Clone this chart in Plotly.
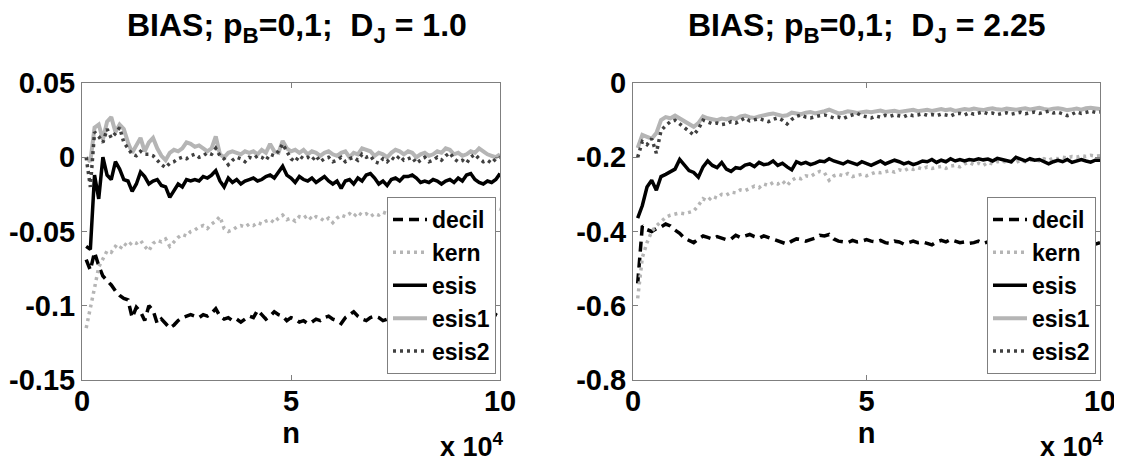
import plotly.graph_objects as go

# ---------------- data ----------------
n = list(range(1000, 100001, 1000))
series_names = ["decil", "kern", "esis", "esis1", "esis2"]

# Left panel: D_J = 1.0
left_decil = [
    -0.069, -0.076, -0.064, -0.073, -0.080, -0.083, -0.086, -0.090, -0.093, -0.095,
    -0.096, -0.108, -0.101, -0.104, -0.110, -0.100, -0.103, -0.112, -0.109, -0.112,
    -0.115, -0.113, -0.110, -0.108, -0.107, -0.106, -0.107, -0.108, -0.106, -0.107,
    -0.105, -0.102, -0.107, -0.109, -0.108, -0.110, -0.109, -0.111, -0.109, -0.107,
    -0.108, -0.103, -0.106, -0.109, -0.107, -0.104, -0.106, -0.107, -0.110, -0.108,
    -0.109, -0.111, -0.110, -0.112, -0.111, -0.109, -0.110, -0.108, -0.107, -0.109,
    -0.110, -0.112, -0.108, -0.106, -0.104, -0.107, -0.109, -0.110, -0.108, -0.107,
    -0.108, -0.110, -0.109, -0.107, -0.108, -0.110, -0.111, -0.109, -0.108, -0.110,
    -0.109, -0.108, -0.110, -0.111, -0.109, -0.108, -0.110, -0.109, -0.107, -0.108,
    -0.109, -0.108, -0.110, -0.109, -0.107, -0.108, -0.111, -0.109, -0.106, -0.108,
]
left_kern = [
    -0.115, -0.100, -0.088, -0.074, -0.068, -0.063, -0.064, -0.060, -0.062, -0.058,
    -0.060, -0.057, -0.058, -0.056, -0.060, -0.063, -0.058, -0.056, -0.057, -0.055,
    -0.060, -0.057, -0.054, -0.052, -0.053, -0.050, -0.049, -0.047, -0.046, -0.048,
    -0.045, -0.043, -0.040, -0.048, -0.050, -0.049, -0.047, -0.046, -0.047, -0.045,
    -0.046, -0.044, -0.045, -0.043, -0.042, -0.044, -0.041, -0.039, -0.042, -0.041,
    -0.043, -0.040, -0.041, -0.039, -0.042, -0.040, -0.041, -0.043, -0.041, -0.044,
    -0.041, -0.039, -0.040, -0.038, -0.040, -0.037, -0.039, -0.038, -0.040, -0.038,
    -0.039, -0.037, -0.038, -0.036, -0.038, -0.036, -0.037, -0.035, -0.037, -0.036,
    -0.038, -0.037, -0.036, -0.035, -0.037, -0.036, -0.034, -0.036, -0.035, -0.034,
    -0.036, -0.035, -0.033, -0.035, -0.034, -0.036, -0.035, -0.033, -0.034, -0.035,
]
left_esis = [
    -0.060, -0.062, -0.012, -0.028, 0.000, -0.012, -0.015, -0.003, -0.008, -0.015,
    -0.016, -0.023, -0.018, -0.010, -0.013, -0.018, -0.016, -0.015, -0.019, -0.020,
    -0.027, -0.022, -0.018, -0.020, -0.015, -0.016, -0.015, -0.016, -0.013, -0.014,
    -0.012, -0.009, -0.016, -0.020, -0.014, -0.017, -0.015, -0.018, -0.016, -0.015,
    -0.014, -0.016, -0.015, -0.013, -0.012, -0.014, -0.010, -0.006, -0.012, -0.014,
    -0.017, -0.013, -0.015, -0.016, -0.014, -0.017, -0.015, -0.013, -0.016, -0.018,
    -0.016, -0.021, -0.016, -0.015, -0.018, -0.014, -0.016, -0.012, -0.011, -0.014,
    -0.018, -0.016, -0.019, -0.015, -0.014, -0.016, -0.013, -0.013, -0.012, -0.014,
    -0.017, -0.016, -0.017, -0.015, -0.016, -0.018, -0.016, -0.015, -0.017, -0.014,
    -0.016, -0.012, -0.011, -0.015, -0.017, -0.018, -0.016, -0.017, -0.015, -0.011,
]
left_esis1 = [
    0.000, -0.003, 0.020, 0.022, 0.012, 0.024, 0.027, 0.017, 0.022, 0.019,
    0.010, 0.003, 0.008, 0.013, 0.004, 0.010, 0.013, 0.006, 0.001, -0.002,
    0.003, 0.005, 0.004, 0.006, 0.010, 0.009, 0.007, 0.008, 0.006, 0.004,
    0.006, 0.014, 0.002, 0.000, 0.003, 0.004, 0.003, 0.002, 0.004, 0.003,
    0.004, 0.002, 0.005, 0.003, 0.009, 0.004, 0.003, 0.011, 0.006, 0.004,
    0.005, 0.003, 0.005, 0.002, 0.004, 0.003, 0.001, 0.003, 0.004, 0.002,
    0.001, 0.003, 0.004, 0.000, 0.003, 0.002, 0.006, 0.005, 0.004, 0.001,
    0.003, 0.002, 0.000, 0.003, 0.005, 0.004, 0.002, 0.004, 0.003, 0.000,
    0.002, 0.003, 0.001, 0.002, 0.004, 0.003, 0.006, 0.005, 0.002, 0.003,
    0.001, 0.002, 0.004, 0.003, 0.006, 0.004, 0.002, 0.001, 0.000, 0.002,
]
left_esis2 = [
    0.000, -0.020, 0.017, 0.014, 0.010, 0.019, 0.013, 0.016, 0.020, 0.010,
    0.006, 0.002, 0.001, 0.004, 0.002, 0.002, 0.001, -0.002, -0.005, -0.007,
    -0.004, -0.003, -0.001, 0.000, -0.001, 0.001, 0.002, 0.000, 0.001, 0.003,
    0.002, 0.006, 0.001, -0.001, -0.005, -0.002, 0.000, -0.001, -0.003, 0.000,
    -0.001, 0.001, 0.000, -0.002, 0.002, 0.001, 0.004, 0.009, 0.004, -0.001,
    -0.003, 0.001, -0.001, 0.000, -0.002, 0.001, -0.003, -0.001, 0.000, -0.003,
    -0.002, 0.000, -0.003, -0.001, 0.000, -0.002, 0.002, 0.000, 0.001, -0.003,
    -0.004, -0.001, -0.003, 0.000, -0.002, 0.001, -0.002, -0.001, 0.000, -0.004,
    -0.002, 0.000, -0.003, -0.002, 0.000, -0.002, 0.001, 0.003, -0.001, -0.003,
    -0.002, -0.004, 0.000, 0.002, -0.001, -0.003, -0.002, -0.004, -0.001, 0.000,
]

# Right panel: D_J = 2.25
right_decil = [
    -0.540, -0.385, -0.395, -0.400, -0.392, -0.388, -0.380, -0.385, -0.396, -0.405,
    -0.418, -0.425, -0.430, -0.420, -0.412, -0.416, -0.420, -0.414, -0.418, -0.422,
    -0.420, -0.410, -0.416, -0.412, -0.408, -0.414, -0.418, -0.412, -0.416, -0.420,
    -0.424, -0.428, -0.434, -0.426, -0.420, -0.422, -0.426, -0.422, -0.418, -0.410,
    -0.412, -0.408, -0.420, -0.426, -0.428, -0.430, -0.424, -0.428, -0.426, -0.422,
    -0.426, -0.428, -0.424, -0.430, -0.432, -0.426, -0.428, -0.434, -0.430, -0.426,
    -0.430, -0.428, -0.432, -0.436, -0.428, -0.424, -0.428, -0.422, -0.426, -0.430,
    -0.428, -0.432, -0.430, -0.426, -0.432, -0.428, -0.430, -0.434, -0.430, -0.428,
    -0.432, -0.430, -0.428, -0.432, -0.434, -0.430, -0.428, -0.432, -0.430, -0.428,
    -0.430, -0.432, -0.426, -0.430, -0.428, -0.432, -0.430, -0.428, -0.434, -0.430,
]
right_kern = [
    -0.580, -0.470, -0.430, -0.400, -0.385, -0.372, -0.362, -0.356, -0.352, -0.350,
    -0.352, -0.348, -0.345, -0.330, -0.312, -0.318, -0.305, -0.310, -0.300, -0.302,
    -0.294, -0.296, -0.288, -0.290, -0.284, -0.278, -0.282, -0.272, -0.276, -0.268,
    -0.272, -0.264, -0.276, -0.262, -0.255, -0.258, -0.250, -0.252, -0.244, -0.238,
    -0.242, -0.262, -0.250, -0.246, -0.250, -0.244, -0.252, -0.248, -0.246, -0.250,
    -0.244, -0.240, -0.242, -0.238, -0.236, -0.240, -0.234, -0.237, -0.230, -0.233,
    -0.228, -0.232, -0.226, -0.230, -0.228, -0.225, -0.230, -0.224, -0.222, -0.226,
    -0.218, -0.214, -0.220, -0.216, -0.222, -0.214, -0.218, -0.212, -0.210, -0.214,
    -0.212, -0.214, -0.208, -0.212, -0.208, -0.206, -0.210, -0.204, -0.208, -0.202,
    -0.204, -0.200, -0.202, -0.198, -0.200, -0.196, -0.198, -0.195, -0.197, -0.196,
]
right_esis = [
    -0.364, -0.330, -0.280, -0.262, -0.289, -0.252, -0.246, -0.240, -0.232, -0.206,
    -0.222, -0.236, -0.241, -0.254, -0.226, -0.210, -0.222, -0.228, -0.214, -0.232,
    -0.238, -0.228, -0.230, -0.221, -0.218, -0.225, -0.214, -0.220, -0.218, -0.210,
    -0.222, -0.216, -0.226, -0.234, -0.212, -0.218, -0.214, -0.220, -0.216, -0.210,
    -0.212, -0.204, -0.210, -0.214, -0.218, -0.211, -0.216, -0.220, -0.212, -0.218,
    -0.222, -0.216, -0.210, -0.218, -0.214, -0.208, -0.212, -0.218, -0.214, -0.220,
    -0.216, -0.210, -0.212, -0.206, -0.214, -0.208, -0.212, -0.204, -0.210, -0.206,
    -0.210, -0.206, -0.208, -0.204, -0.207, -0.205, -0.210, -0.203, -0.206, -0.208,
    -0.212, -0.200, -0.206, -0.210, -0.204, -0.208, -0.206, -0.212, -0.218, -0.212,
    -0.208, -0.212, -0.206, -0.214, -0.210, -0.206, -0.210, -0.213, -0.208, -0.208,
]
right_esis1 = [
    -0.175, -0.140, -0.145, -0.150, -0.135, -0.100, -0.092, -0.095, -0.088, -0.095,
    -0.105, -0.112, -0.118, -0.108, -0.090, -0.095, -0.098, -0.100, -0.096, -0.098,
    -0.094, -0.097, -0.090, -0.088, -0.092, -0.094, -0.090, -0.086, -0.084, -0.082,
    -0.085, -0.089, -0.087, -0.080, -0.082, -0.084, -0.080, -0.078, -0.082, -0.080,
    -0.076, -0.072, -0.078, -0.082, -0.080, -0.076, -0.078, -0.081, -0.079, -0.077,
    -0.079, -0.076, -0.074, -0.078, -0.077, -0.075, -0.078, -0.076, -0.074, -0.072,
    -0.076, -0.074, -0.072, -0.075, -0.073, -0.070, -0.073, -0.071, -0.075, -0.072,
    -0.070, -0.072, -0.069, -0.071, -0.073, -0.070, -0.068, -0.071, -0.072, -0.069,
    -0.070, -0.072, -0.070, -0.068, -0.071, -0.069, -0.067, -0.070, -0.072, -0.069,
    -0.068, -0.070, -0.073, -0.071, -0.069, -0.072, -0.068, -0.067, -0.069, -0.070,
]
right_esis2 = [
    -0.200, -0.158, -0.166, -0.150, -0.189, -0.128, -0.115, -0.104, -0.100, -0.110,
    -0.118, -0.130, -0.140, -0.124, -0.100, -0.105, -0.110, -0.108, -0.112, -0.110,
    -0.104, -0.108, -0.100, -0.094, -0.102, -0.098, -0.096, -0.100, -0.104, -0.098,
    -0.094, -0.100, -0.110, -0.098, -0.090, -0.086, -0.092, -0.094, -0.090, -0.088,
    -0.086, -0.090, -0.094, -0.092, -0.096, -0.090, -0.086, -0.082, -0.088, -0.092,
    -0.094, -0.089, -0.092, -0.087, -0.090, -0.086, -0.088, -0.091, -0.085, -0.088,
    -0.086, -0.083, -0.087, -0.085, -0.088, -0.084, -0.086, -0.089, -0.083, -0.082,
    -0.086, -0.080, -0.084, -0.082, -0.078, -0.083, -0.081, -0.085, -0.082, -0.080,
    -0.084, -0.081, -0.079, -0.083, -0.080, -0.078, -0.082, -0.080, -0.076, -0.081,
    -0.079, -0.083, -0.088, -0.084, -0.078, -0.082, -0.079, -0.076, -0.079, -0.078,
]

left_title = "BIAS; p<sub>B</sub>=0,1;\u00a0\u00a0D<sub>J</sub> = 1.0"
right_title = "BIAS; p<sub>B</sub>=0,1;\u00a0\u00a0D<sub>J</sub> = 2.25"
x_tickvals = [0, 50000, 100000]
x_ticktext = ["0", "5", "10"]
left_y_tickvals = [0.05, 0, -0.05, -0.1, -0.15]
left_y_ticktext = ["0.05", "0", "-0.05", "-0.1", "-0.15"]
right_y_tickvals = [0, -0.2, -0.4, -0.6, -0.8]
right_y_ticktext = ["0", "-0.2", "-0.4", "-0.6", "-0.8"]

# ---------------- layout constants ----------------
W, H = 1122, 465
AX1 = (74, 492)
AX2 = (625, 1092)
TOP, BOT = 75, 372
FONT = "Liberation Sans, Arial, Helvetica, sans-serif"
AXCOL = "#7f7f7f"

styles = {
    "decil": dict(color="black", width=3.5, dash="10px,6px"),
    "kern": dict(color="#b5b5b5", width=3.5, dash="3px,4px"),
    "esis": dict(color="black", width=3.5),
    "esis1": dict(color="#b5b5b5", width=4),
    "esis2": dict(color="#404040", width=3.5, dash="3px,4px"),
}

left_data = dict(zip(series_names, [left_decil, left_kern, left_esis, left_esis1, left_esis2]))
right_data = dict(zip(series_names, [right_decil, right_kern, right_esis, right_esis1, right_esis2]))

fig = go.Figure()
for side, data, xa, ya, leg in [("L", left_data, "x", "y", "legend"),
                                ("R", right_data, "x2", "y2", "legend2")]:
    for name in series_names:
        fig.add_trace(go.Scatter(
            x=n, y=data[name], mode="lines", name=name,
            line=styles[name], xaxis=xa, yaxis=ya, legend=leg,
            legendgroup=side + name,
        ))


def px_x(p):
    return p / W


def px_y(p):
    return 1 - p / H


axis_common = dict(
    showline=True, linecolor=AXCOL, linewidth=1, mirror="ticks",
    ticks="inside", ticklen=5, tickcolor=AXCOL, tickwidth=1,
    showgrid=False, zeroline=False, automargin=False,
    tickfont=dict(family=FONT, size=29, color="black", weight="bold"),
)

legend_common = dict(
    xanchor="right", yanchor="bottom", bgcolor="white",
    bordercolor=AXCOL, borderwidth=1, traceorder="grouped",
    tracegroupgap=0, itemwidth=34,
    font=dict(family=FONT, size=23, color="black", weight="bold"),
)

title_font = dict(family=FONT, size=29, color="black", weight="bold")

fig.update_layout(
    width=W, height=H,
    margin=dict(l=0, r=0, t=0, b=0),
    paper_bgcolor="white", plot_bgcolor="white",
    showlegend=True,
    xaxis=dict(domain=[px_x(AX1[0]), px_x(AX1[1])], range=[0, 100000],
               tickvals=x_tickvals, ticktext=x_ticktext, anchor="y",
               ticklabelstandoff=-5,
               title=dict(text="n", standoff=0, font=title_font),
               **axis_common),
    yaxis=dict(domain=[px_y(BOT), px_y(TOP)], range=[-0.15, 0.05],
               tickvals=left_y_tickvals, ticktext=left_y_ticktext, anchor="x",
               **axis_common),
    xaxis2=dict(domain=[px_x(AX2[0]), px_x(AX2[1])], range=[0, 100000],
                tickvals=x_tickvals, ticktext=x_ticktext, anchor="y2",
                ticklabelstandoff=-5,
                title=dict(text="n", standoff=0, font=title_font),
                **axis_common),
    yaxis2=dict(domain=[px_y(BOT), px_y(TOP)], range=[-0.8, 0],
                tickvals=right_y_tickvals, ticktext=right_y_ticktext, anchor="x2",
                **axis_common),
    legend=dict(x=px_x(AX1[1] - 4), y=px_y(BOT - 6), **legend_common),
    legend2=dict(x=px_x(AX2[1] - 4), y=px_y(BOT - 6), **legend_common),
)

annotations = []
for (a, b), txt, dx in [(AX1, left_title, 6), (AX2, right_title, 0)]:
    annotations.append(dict(
        text=txt, x=px_x((a + b) / 2 + dx), y=px_y(20), xref="paper", yref="paper",
        xanchor="center", yanchor="middle", showarrow=False,
        font=dict(family=FONT, size=32, color="black", weight="bold"),
    ))
    annotations.append(dict(
        text="x 10<sup>4</sup>", x=px_x(b + 6), y=px_y(437), xref="paper", yref="paper",
        xanchor="right", yanchor="middle", showarrow=False,
        font=dict(family=FONT, size=27, color="black", weight="bold"),
    ))
fig.update_layout(annotations=annotations)

fig.write_html("out.html")
